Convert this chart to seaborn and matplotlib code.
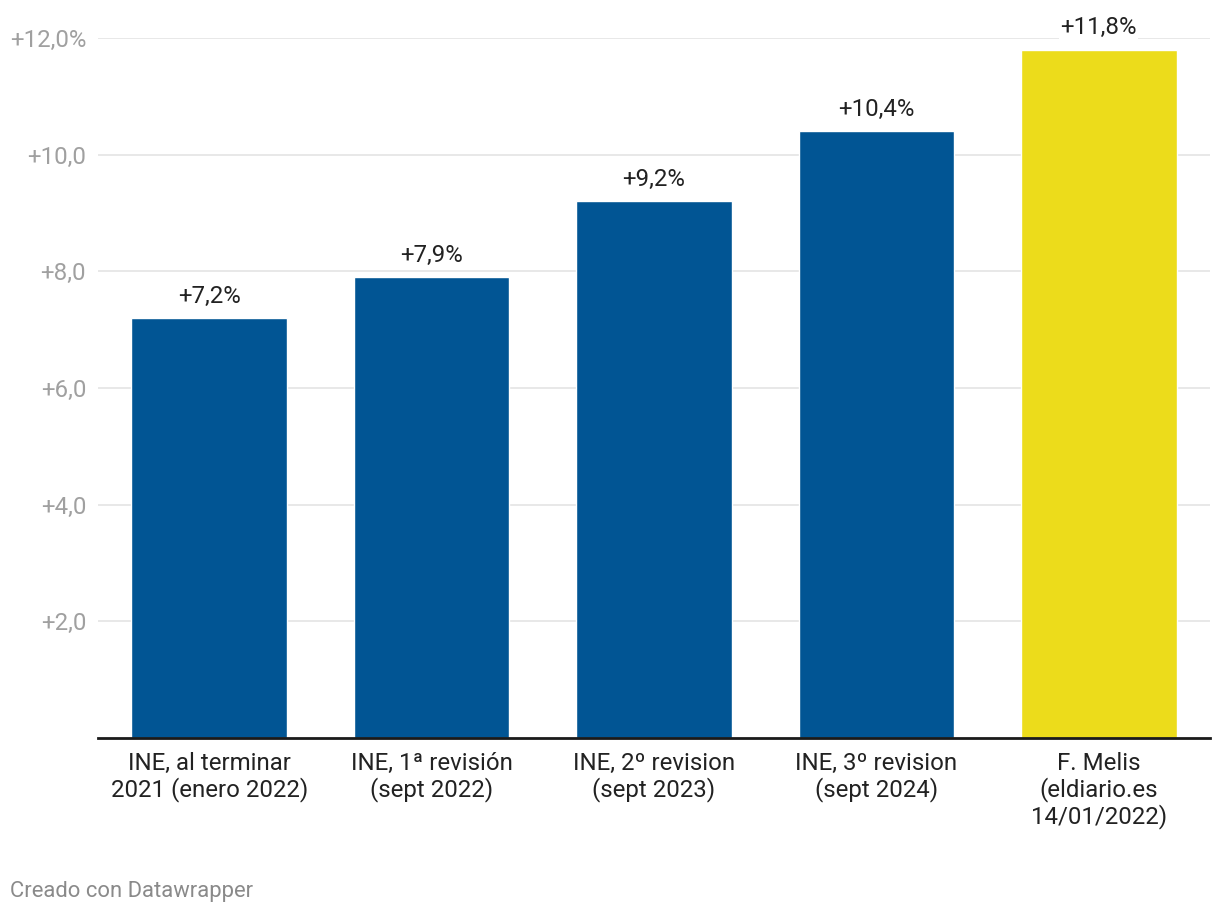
import matplotlib
matplotlib.use("Agg")
import matplotlib.pyplot as plt
import seaborn as sns
import pandas as pd

categories = [
    "INE, al terminar\n2021 (enero 2022)",
    "INE, 1ª revisión\n(sept 2022)",
    "INE, 2º revision\n(sept 2023)",
    "INE, 3º revision\n(sept 2024)",
    "F. Melis\n(eldiario.es\n14/01/2022)",
]
values = [7.2, 7.9, 9.2, 10.4, 11.8]
value_labels = ["+7,2%", "+7,9%", "+9,2%", "+10,4%", "+11,8%"]
bar_colors = ["#015594", "#015594", "#015594", "#015594", "#ecdc1b"]
yticks = [2, 4, 6, 8, 10, 12]
ytick_labels = ["+2,0", "+4,0", "+6,0", "+8,0", "+10,0", "+12,0%"]

sns.set_theme(style="white")
plt.rcParams["font.family"] = ["Roboto", "DejaVu Sans"]

df = pd.DataFrame({"cat": categories, "val": values})

fig = plt.figure(figsize=(12.2, 9.16), dpi=100)
ax = fig.add_axes([98 / 1220, (916 - 738) / 916, 1112 / 1220, 700 / 916])

sns.barplot(data=df, x="cat", y="val", hue="cat", palette=bar_colors,
            width=0.7, legend=False, ax=ax, saturation=1)

FS = 17.3
ax.set_xlim(-0.5, 4.5)
ax.set_ylim(0, 12)
ax.set_yticks(yticks)
ax.set_yticklabels(ytick_labels)
ax.yaxis.grid(True, color="#e4e4e4", linewidth=1.2)
ax.set_axisbelow(True)
for s in ["top", "right", "left"]:
    ax.spines[s].set_visible(False)
ax.spines["bottom"].set_color("#1a1a1a")
ax.spines["bottom"].set_linewidth(2)
ax.tick_params(axis="y", length=0, pad=8.6, labelsize=FS, labelcolor="#a0a0a0")
ax.tick_params(axis="x", length=0, pad=9.8, labelsize=FS, labelcolor="#222222")
for lbl in ax.get_xticklabels():
    lbl.set_linespacing(1.13)
    lbl.set_verticalalignment("top")
ax.set_xlabel("")
ax.set_ylabel("")

for i, (v, t) in enumerate(zip(values, value_labels)):
    ax.annotate(t, (i, v), xytext=(0, 11), textcoords="offset points",
                ha="center", va="baseline", fontsize=FS, color="#222222",
                annotation_clip=False,
                bbox=dict(boxstyle="square,pad=0.05", fc="white", ec="none"))

fig.text(10 / 1220, 1 - 891 / 916, "Creado con Datawrapper", fontsize=15.8,
         color="#8a8a8a", ha="left", va="center")

fig.savefig("out.png", dpi=100, facecolor="white")
